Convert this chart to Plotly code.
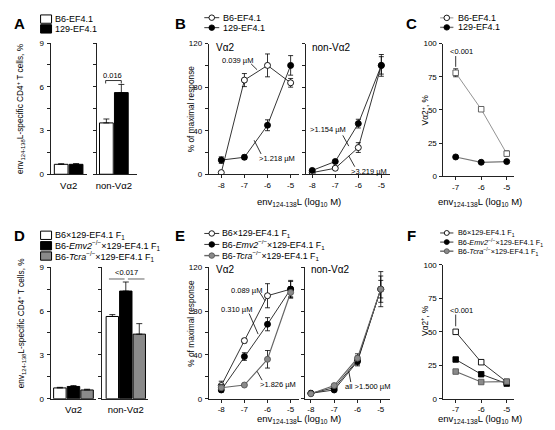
import plotly.graph_objects as go

W, H = 555, 430
FONT = "Liberation Sans, Arial, sans-serif"

# ---------------- data ----------------
groups = ['Vα2', 'non-Vα2']
A_strains = ['B6-EF4.1', '129-EF4.1']
A_B6 = [0.68, 3.52]
A_B6_err = [0.04, 0.27]
A_129 = [0.68, 5.60]
A_129_err = [0.05, 0.56]

dose = [-8, -7, -6, -5]
B_va2_B6 = [1.5, 86.5, 100, 84]
B_va2_B6_err = [1, 6, 10.5, 4]
B_va2_129 = [13, 15.6, 45, 100]
B_va2_129_err = [3, 2, 5, 9]
B_nv_B6 = [1.5, 5.5, 24.5, 100]
B_nv_B6_err = [1, 1, 4.5, 10]
B_nv_129 = [3.5, 11.7, 46.5, 100]
B_nv_129_err = [1, 1.5, 4, 8]

dose_C = [-7, -6, -5]
C_B6 = [78, 50.5, 17]
C_B6_err = [3, 1.5, 2]
C_129 = [14.5, 10.5, 11]
C_129_err = [1, 1, 1]

D_strains = ['B6×129-EF4.1 F1', 'B6-Emv2−/−×129-EF4.1 F1', 'B6-Tcra−/−×129-EF4.1 F1']
D_F1 = [0.74, 5.63]
D_F1_err = [0.04, 0.13]
D_Emv2 = [0.84, 7.37]
D_Emv2_err = [0.06, 0.62]
D_Tcra = [0.60, 4.42]
D_Tcra_err = [0.05, 0.72]

E_va2_F1 = [12, 53, 94, 100]
E_va2_F1_err = [4, 2, 11, 8]
E_va2_Emv2 = [8, 38.5, 68, 100]
E_va2_Emv2_err = [2, 3.5, 6, 7]
E_va2_Tcra = [10, 12.5, 36, 97]
E_va2_Tcra_err = [3, 1, 8, 5]
E_nv_F1 = [5, 10, 35, 100]
E_nv_F1_err = [1, 1, 4, 8]
E_nv_Emv2 = [5, 8, 34, 100]
E_nv_Emv2_err = [1, 1, 4, 12]
E_nv_Tcra = [4.5, 12, 37, 100]
E_nv_Tcra_err = [1, 1, 4, 16]

F_F1 = [50, 27.3, 12.5]
F_F1_err = [1.5, 1.5, 1]
F_Emv2 = [29.3, 18.3, 11.3]
F_Emv2_err = [1.5, 1, 1]
F_Tcra = [20.3, 12.5, 12.8]
F_Tcra_err = [1, 1, 1]

# ---------------- helpers ----------------
def xp(px):
    return px / W

def yp(py):
    return 1 - py / H

GRAY = '#8a8a8a'
AXC = '#222222'
fig = go.Figure()

def err(vals, up_only=False, width=2.5):
    d = dict(type='data', array=vals, color='black', thickness=0.8, width=width, visible=True)
    if up_only:
        d['symmetric'] = False
        d['arrayminus'] = [0] * len(vals)
    return d

def bar(xa, ya, cat, val, e, color):
    fig.add_trace(go.Bar(x=[cat], y=[val], marker=dict(color=color, line=dict(color='black', width=1)),
                         error_y=err([e], up_only=True, width=3), xaxis=xa, yaxis=ya, showlegend=False))

def line(xa, ya, x, y, e, fill, lc='black', lw=0.8, sym='circle', mlc='black', size=6):
    fig.add_trace(go.Scatter(x=x, y=y, mode='lines+markers', xaxis=xa, yaxis=ya, showlegend=False,
                             line=dict(color=lc, width=lw),
                             marker=dict(symbol=sym, size=size, color=fill, line=dict(color=mlc, width=0.9)),
                             error_y=err(e)))

# A bars
for gi, g in enumerate(groups):
    xa, ya = ('x', 'y') if gi == 0 else ('x2', 'y2')
    bar(xa, ya, g, A_B6[gi], A_B6_err[gi], 'white')
    bar(xa, ya, g, A_129[gi], A_129_err[gi], 'black')

# B
line('x3', 'y3', dose, B_va2_B6, B_va2_B6_err, 'white')
line('x3', 'y3', dose, B_va2_129, B_va2_129_err, 'black')
line('x4', 'y4', dose, B_nv_B6, B_nv_B6_err, 'white')
line('x4', 'y4', dose, B_nv_129, B_nv_129_err, 'black')

# C
line('x5', 'y5', dose_C, C_B6, C_B6_err, 'white', lc='#777', sym='square', mlc='#555', size=5.5)
line('x5', 'y5', dose_C, C_129, C_129_err, 'black', lc='#777', lw=1.2)

# D bars
for gi, g in enumerate(groups):
    xa, ya = ('x6', 'y6') if gi == 0 else ('x7', 'y7')
    bar(xa, ya, g, D_F1[gi], D_F1_err[gi], 'white')
    bar(xa, ya, g, D_Emv2[gi], D_Emv2_err[gi], 'black')
    bar(xa, ya, g, D_Tcra[gi], D_Tcra_err[gi], GRAY)

# E
line('x8', 'y8', dose, E_va2_F1, E_va2_F1_err, 'white')
line('x8', 'y8', dose, E_va2_Emv2, E_va2_Emv2_err, 'black')
line('x8', 'y8', dose, E_va2_Tcra, E_va2_Tcra_err, GRAY, lc='#666', lw=1.2, mlc='#555')
line('x9', 'y9', dose, E_nv_F1, E_nv_F1_err, 'white')
line('x9', 'y9', dose, E_nv_Emv2, E_nv_Emv2_err, 'black')
line('x9', 'y9', dose, E_nv_Tcra, E_nv_Tcra_err, GRAY, lc='#666', lw=1.2, mlc='#555')

# F
line('x10', 'y10', dose_C, F_F1, F_F1_err, 'white', sym='square', size=5.5)
line('x10', 'y10', dose_C, F_Emv2, F_Emv2_err, 'black', sym='square', size=5.5)
line('x10', 'y10', dose_C, F_Tcra, F_Tcra_err, GRAY, lc='#666', lw=1.2, sym='square', mlc='#555', size=5.5)

# ---------------- axes ----------------
TICKF = dict(family=FONT, size=8, color='black')

def xax(px0, px1, rng=None, cat=False, tickvals=None):
    d = dict(domain=[xp(px0), xp(px1)], showline=True, linecolor=AXC, linewidth=1, showgrid=False,
             zeroline=False, tickfont=TICKF, mirror=False)
    if cat:
        d.update(type='category', range=rng, ticks='', tickfont=dict(family=FONT, size=9.5, color='black'),
                 ticklabelstandoff=2)
    else:
        d.update(range=rng, tickvals=tickvals, ticktext=[str(v) for v in tickvals],
                 ticks='outside', ticklen=3, tickcolor=AXC, tickwidth=1)
    return d

def yax(py_top, py_bot, rng, dtick, labels=True, minor=None):
    d = dict(domain=[yp(py_bot), yp(py_top)], range=rng, showline=True, linecolor=AXC, linewidth=1,
             showgrid=False, zeroline=False, ticks='outside', ticklen=3, tickcolor=AXC, tickwidth=1,
             dtick=dtick, tick0=0, showticklabels=labels, tickfont=TICKF, ticklabelstandoff=1)
    if minor:
        d['minor'] = dict(dtick=minor, ticks='outside', ticklen=2.5, tickcolor=AXC, tickwidth=1, showgrid=False)
    return d

lay = {}
# A
lay['xaxis'] = xax(40.7, 77, [-0.54, 0.54], cat=True)
lay['yaxis'] = yax(31.7, 165.7, [0, 9], 3, minor=1.5)
lay['xaxis2'] = xax(87.7, 127, [-0.49, 0.675], cat=True)
lay['yaxis2'] = yax(31.7, 165.7, [0, 9], 1.5, labels=False)
# B
lay['xaxis3'] = xax(199.5, 290, [-8.54, -4.64], tickvals=dose)
lay['yaxis3'] = yax(32.3, 165.7, [0, 120], 40, minor=20)
lay['xaxis4'] = xax(296.7, 381.7, [-8.287, -4.61], tickvals=dose)
lay['yaxis4'] = yax(32.3, 165.7, [0, 120], 20, labels=False)
# C
lay['xaxis5'] = xax(435, 505.7, [-7.48, -4.72], tickvals=dose_C)
lay['yaxis5'] = yax(32.3, 167.7, [0, 100], 25)
# D
lay['xaxis6'] = xax(40.7, 86.7, [-0.5, 0.5], cat=True)
lay['yaxis6'] = yax(260.7, 395, [0, 9], 3, minor=1.5)
lay['xaxis7'] = xax(92.3, 139, [-0.525, 0.5], cat=True)
lay['yaxis7'] = yax(260.7, 395, [0, 9], 1.5, labels=False)
# E
lay['xaxis8'] = xax(199.5, 290, [-8.54, -4.64], tickvals=dose)
lay['yaxis8'] = yax(260.7, 395, [0, 120], 40, minor=20)
lay['xaxis9'] = xax(296, 381.7, [-8.256, -4.59], tickvals=dose)
lay['yaxis9'] = yax(260.7, 395, [0, 120], 20, labels=False)
# F
lay['xaxis10'] = xax(435, 505.7, [-7.48, -4.72], tickvals=dose_C)
lay['yaxis10'] = yax(258.3, 395, [0, 100], 25)

for i in range(1, 11):
    sx = '' if i == 1 else str(i)
    lay['xaxis' + sx]['anchor'] = 'y' + sx
    lay['yaxis' + sx]['anchor'] = 'x' + sx

# ---------------- text / annotations ----------------
ann = []
shapes = []

def txt(x, y, s, size=8, xanchor='center', yanchor='middle', angle=0, bold=False, color='black'):
    ann.append(dict(x=xp(x), y=yp(y), xref='paper', yref='paper', text=('<b>%s</b>' % s) if bold else s,
                    showarrow=False, xanchor=xanchor, yanchor=yanchor, textangle=angle,
                    font=dict(family=FONT, size=size, color=color)))

def seg(x0, y0, x1, y1, color='black', w=0.8):
    shapes.append(dict(type='line', xref='paper', yref='paper', x0=xp(x0), y0=yp(y0), x1=xp(x1), y1=yp(y1),
                       line=dict(color=color, width=w)))

def rect(x0, y0, x1, y1, fill):
    shapes.append(dict(type='rect', xref='paper', yref='paper', x0=xp(x0), y0=yp(y1), x1=xp(x1), y1=yp(y0),
                       fillcolor=fill, line=dict(color='black', width=1)))

def dot(cx, cy, r, fill, lc='black'):
    shapes.append(dict(type='circle', xref='paper', yref='paper', x0=xp(cx - r), x1=xp(cx + r),
                       y0=yp(cy + r), y1=yp(cy - r), fillcolor=fill, line=dict(color=lc, width=0.9)))

def leg_line(x0, x1, y, fill, lc='black', lw=0.8, mlc='black', r=2.8):
    seg(x0, y, x1, y, color=lc, w=lw)
    dot((x0 + x1) / 2, y, r, fill, mlc)

# panel letters
for L, x, y in [('A', 10, 12), ('B', 171, 12), ('C', 403, 12), ('D', 10, 228), ('E', 171, 228), ('F', 403, 228)]:
    txt(x, y, L, size=15, bold=True)

# legends A / D
rect(30.7, 3, 41.7, 11.5, 'white'); txt(43.5, 7.3, A_strains[0], 9, 'left')
rect(30.7, 13, 41.7, 21.5, 'black'); txt(43.5, 17.5, A_strains[1], 9, 'left')

D_lbl = ['B6×129-EF4.1 F<sub>1</sub>',
         'B6-<i>Emv2</i><sup>−/−</sup>×129-EF4.1 F<sub>1</sub>',
         'B6-<i>Tcra</i><sup>−/−</sup>×129-EF4.1 F<sub>1</sub>']
for i, (fc, yy) in enumerate(zip(['white', 'black', GRAY], [228.3, 239, 249.5])):
    rect(30.7, yy - 4.5, 41.7, yy + 4, fc)
    txt(43.5, yy, D_lbl[i], 9, 'left')

# legends B / C
leg_line(195, 210, 5.8, 'white'); txt(211.5, 5.8, A_strains[0], 9, 'left')
leg_line(195, 210, 16, 'black'); txt(211.5, 16, A_strains[1], 9, 'left')
leg_line(431.7, 445, 6, 'white', lc='#777'); txt(447.3, 6, A_strains[0], 9, 'left')
leg_line(431.7, 445, 15.7, 'black', lc='#777', lw=1.4); txt(447.3, 15.7, A_strains[1], 9, 'left')

# legends E / F
for (x0, x1, tx, ys, fs, r) in [(195, 210, 211, [226.2, 237.4, 248.8], 8.8, 2.8),
                               (431.7, 445, 447.3, [225.7, 235, 244.3], 7.3, 2.5)]:
    leg_line(x0, x1, ys[0], 'white', r=r); txt(tx, ys[0], D_lbl[0], fs, 'left')
    leg_line(x0, x1, ys[1], 'black', r=r); txt(tx, ys[1], D_lbl[1], fs, 'left')
    leg_line(x0, x1, ys[2], GRAY, lc='#666', lw=1.4, mlc='#555', r=r); txt(tx, ys[2], D_lbl[2], fs, 'left')

# axis titles
ytA = 'env<sub>124-138</sub>L-specific CD4<sup>+</sup> T cells, %'
txt(11, 98, ytA, 8.3, angle=-90)
txt(11, 317, ytA, 8.3, angle=-90)
txt(182, 99, '% of maximal response', 8.3, angle=-90)
txt(182, 318, '% of maximal response', 8.3, angle=-90)
txt(416, 100, 'Vα2<sup>+</sup>, %', 8.3, angle=-90)
txt(416, 315, 'Vα2<sup>+</sup>, %', 8.3, angle=-90)
xt = 'env<sub>124-138</sub>L (log<sub>10</sub> M)'
txt(290, 194, xt, 9.5)
txt(290, 416, xt, 9.5)
txt(472, 194, xt, 9.5)
txt(472, 416, xt, 9.5)

# subpanel labels
txt(205, 36, 'Vα2', 10, 'left')
txt(301, 36, 'non-Vα2', 10, 'left')
txt(205, 263, 'Vα2', 10, 'left')
txt(300, 263, 'non-Vα2', 10, 'left')

# A bracket
txt(103.3, 65, '0.016', 7.5)
seg(96, 70, 111.7, 70); seg(96, 70, 96, 73); seg(111.7, 70, 111.7, 73)
# D brackets
txt(117.3, 266, '<0.017', 7.5)
seg(99.3, 272.7, 115, 272.7, color='#666', w=1)
seg(118.3, 272.7, 135, 272.7, color='#666', w=1)

# B annotations
ANF = 7.5
txt(228, 49.5, '0.039 µM', ANF)
seg(242, 53, 248, 59)
txt(268, 150, '>1.218 µM', ANF)
seg(252, 145, 245, 131)
txt(319, 120, '>1.154 µM', ANF)
seg(334, 126, 340, 137)
txt(360, 163, '>3.219 µM', ANF)
seg(346, 158, 340, 147)
# C
txt(453.5, 40.7, '<0.001', ANF)
seg(447.3, 45, 447.3, 56)
# E annotations
txt(237, 284.3, '0.089 µM', ANF)
seg(251, 287, 256, 295)
txt(227, 304.3, '0.310 µM', ANF)
seg(240, 308, 249, 329)
txt(269, 380, '>1.826 µM', ANF)
seg(253, 376, 248, 367)
txt(359, 382, 'all >1.500 µM', ANF)
seg(342, 378, 340, 367)
# F
txt(453.5, 305, '<0.001', ANF)
seg(447.3, 309, 447.3, 321)

fig.update_layout(width=W, height=H, margin=dict(l=0, r=0, t=0, b=0), paper_bgcolor='white',
                  plot_bgcolor='white', barmode='group', bargap=0.11, bargroupgap=0.08,
                  showlegend=False, annotations=ann, shapes=shapes, font=dict(family=FONT), **lay)

fig.write_html('out.html')
